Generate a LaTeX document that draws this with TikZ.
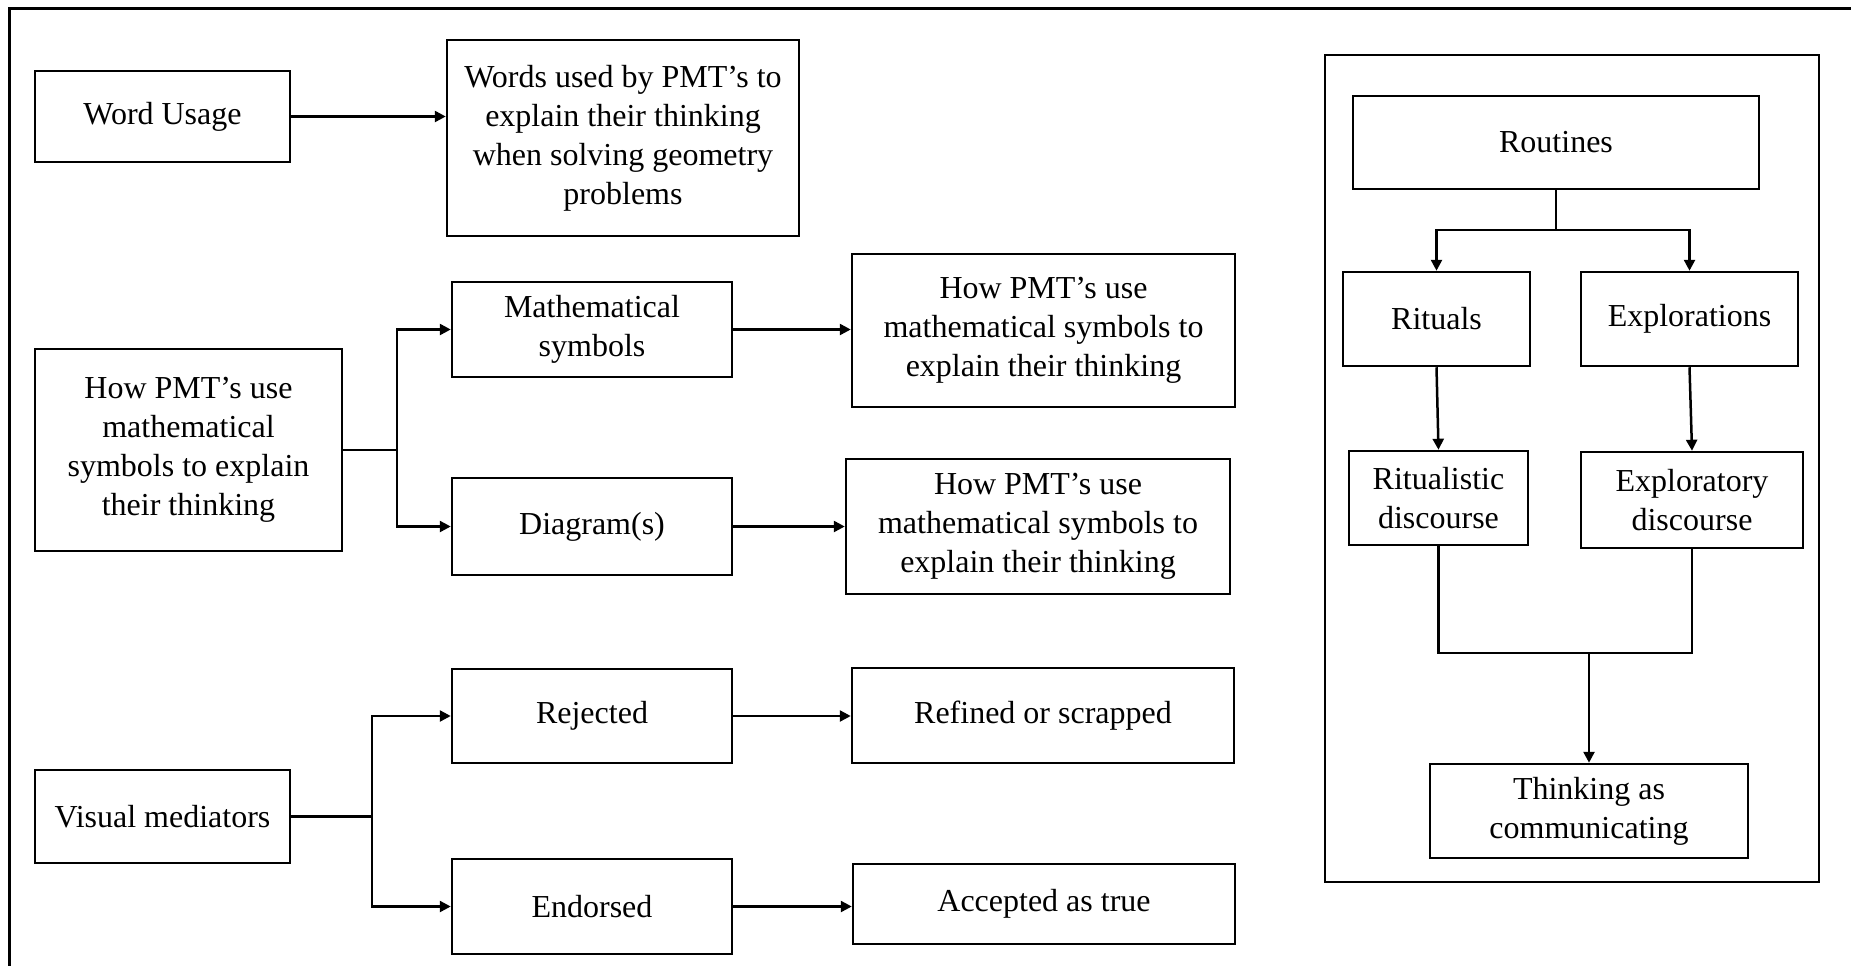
\documentclass[tikz,border=0pt]{standalone}
\usepackage{fontspec}
\setmainfont{Liberation Serif}
\usetikzlibrary{arrows.meta}

\tikzset{
  box/.style={draw, line width=2.5pt, align=center, inner sep=0pt,
    font=\fontsize{32}{39}\selectfont},
  link/.style={line width=2.5pt, -{Triangle[length=11pt,width=11pt]}},
  wire/.style={line width=2.5pt},
}

\begin{document}
\begin{tikzpicture}[x=1pt,y=-1pt]
    \useasboundingbox (0,0) rectangle (1851,966);
    % outer frame (cut at right and bottom)
    \draw[line width=3pt] (1851,9) -- (9,9) -- (9,966);

    % word usage
    \node[box, minimum width=255pt, minimum height=91pt] (wu) at (162.5,116.5) {Word Usage};
    \node[box, minimum width=352pt, minimum height=196pt] (wd) at (623,138)
        {Words used by PMT’s to\\explain their thinking\\when solving geometry\\problems};
    \draw[link] (wu.east) -- (wu.east -| wd.west);

    % symbols
    \node[box, minimum width=307pt, minimum height=202pt] (pmt) at (188.5,450)
        {How PMT’s use\\mathematical\\symbols to explain\\their thinking};
    \node[box, minimum width=280pt, minimum height=95pt] (ms) at (592,329.5) {Mathematical\\symbols};
    \node[box, minimum width=280pt, minimum height=97pt] (dg) at (592,526.5) {Diagram(s)};
    \node[box, minimum width=383pt, minimum height=153pt] (pa) at (1043.5,330.5)
        {How PMT’s use\\mathematical symbols to\\explain their thinking};
    \node[box, minimum width=384pt, minimum height=135pt] (pb) at (1038,526.5)
        {How PMT’s use\\mathematical symbols to\\explain their thinking};
    \coordinate (j1) at (397,450);
    \draw[wire] (pmt.east) -- (j1);
    \draw[link] (j1) |- (ms.west);
    \draw[link] (j1) |- (dg.west);
    \draw[link] (ms.east) -- (ms.east -| pa.west);
    \draw[link] (dg.east) -- (dg.east -| pb.west);

    % visual mediators
    \node[box, minimum width=255pt, minimum height=93pt] (vm) at (162.5,816.5) {Visual mediators};
    \node[box, minimum width=280pt, minimum height=94pt] (rj) at (592,716) {Rejected};
    \node[box, minimum width=280pt, minimum height=95pt] (en) at (592,906.5) {Endorsed};
    \node[box, minimum width=382pt, minimum height=95pt] (rs) at (1043,715.5) {Refined or scrapped};
    \node[box, minimum width=382pt, minimum height=80pt] (ac) at (1044,904) {Accepted as true};
    \coordinate (j2) at (372,816.5);
    \draw[wire] (vm.east) -- (j2);
    \draw[link] (j2) |- (rj.west);
    \draw[link] (j2) |- (en.west);
    \draw[link] (rj.east) -- (rj.east -| rs.west);
    \draw[link] (en.east) -- (en.east -| ac.west);

    % routines panel
    \draw[line width=2pt] (1325,55) rectangle (1819,882);
    \node[box, minimum width=406pt, minimum height=93pt] (ro) at (1556,142.5) {Routines};
    \node[box, minimum width=187pt, minimum height=94pt] (ri) at (1436.5,319) {Rituals};
    \node[box, minimum width=217pt, minimum height=94pt] (ex) at (1689.5,319) {Explorations};
    \node[box, minimum width=179pt, minimum height=94pt] (rd) at (1438.5,498) {Ritualistic\\discourse};
    \node[box, minimum width=222pt, minimum height=96pt] (ed) at (1692,500) {Exploratory\\discourse};
    \node[box, minimum width=318pt, minimum height=94pt] (tc) at (1589,811) {Thinking as\\communicating};
    \coordinate (r1) at (1556,230);
    \draw[wire] (ro.south) -- (r1);
    \draw[link] (r1) -| (ri.north);
    \draw[link] (r1) -| (ex.north);
    \draw[link] (ri.south) -- (rd.north);
    \draw[link] (ex.south) -- (ed.north);
    \coordinate (r2) at (1589,653);
    \draw[wire] (rd.south) |- (ed.south |- r2) -- (ed.south);
    \draw[link] (r2) -- (tc.north);
\end{tikzpicture}
\end{document}
